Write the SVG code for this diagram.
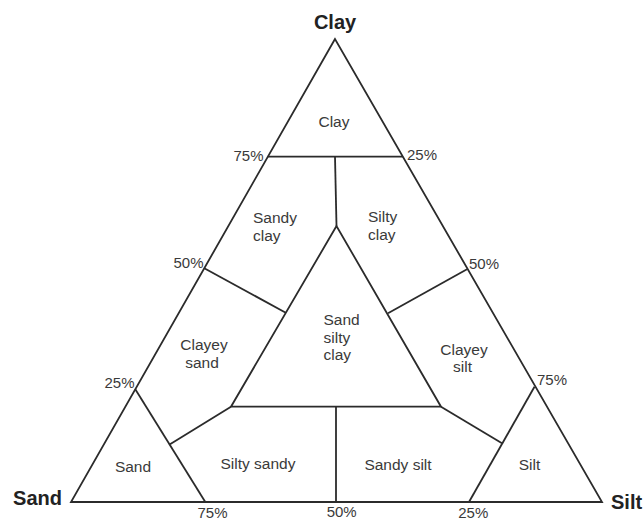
<svg xmlns="http://www.w3.org/2000/svg" width="644" height="520" viewBox="0 0 644 520">
<style>
.ln{fill:none;stroke:#2b2b2b;stroke-width:1.8;stroke-linejoin:miter}
.ax{font-family:"Liberation Sans",Arial,sans-serif;font-size:20px;font-weight:bold;fill:#222}
.pc{font-family:"Liberation Sans",Arial,sans-serif;font-size:15px;fill:#3a3a3a}
.rg{font-family:"Liberation Sans",Arial,sans-serif;font-size:15.5px;fill:#3a3a3a}
</style>
<rect width="644" height="520" fill="#fff"/>
<g id="connectors">
<polygon class="ln" points="335,39 71,502 602,502"/>
<line class="ln" x1="267.8" y1="156.7" x2="402.8" y2="156.7"/>
<line class="ln" x1="335" y1="156.7" x2="336.5" y2="226"/>
<polygon class="ln" points="336.5,226 231,406.7 441,406.7"/>
<line class="ln" x1="204.3" y1="268.3" x2="285.8" y2="312.7"/>
<line class="ln" x1="467" y1="269.3" x2="388" y2="313.3"/>
<line class="ln" x1="135.3" y1="389.3" x2="205.3" y2="502"/>
<line class="ln" x1="231" y1="406.7" x2="170" y2="444.3"/>
<line class="ln" x1="534.5" y1="386.7" x2="469" y2="502"/>
<line class="ln" x1="441" y1="406.7" x2="502" y2="443.3"/>
<line class="ln" x1="336" y1="406.7" x2="336" y2="502"/>
</g>
<g id="axis-labels">
<text class="ax" x="335" y="29" text-anchor="middle">Clay</text>
<text class="ax" x="62" y="505" text-anchor="end">Sand</text>
<text class="ax" x="611" y="509">Silt</text>
</g>
<g id="percent-labels">
<text class="pc" x="263.5" y="161" text-anchor="end">75%</text>
<text class="pc" x="407" y="160">25%</text>
<text class="pc" x="203.5" y="267.5" text-anchor="end">50%</text>
<text class="pc" x="469" y="268.5">50%</text>
<text class="pc" x="134.5" y="387.5" text-anchor="end">25%</text>
<text class="pc" x="537" y="385">75%</text>
<text class="pc" x="212.5" y="517.5" text-anchor="middle">75%</text>
<text class="pc" x="341.7" y="517" text-anchor="middle">50%</text>
<text class="pc" x="473.3" y="518" text-anchor="middle">25%</text>
</g>
<g id="region-clay"><text class="rg" x="334" y="127" text-anchor="middle">Clay</text></g>
<g id="region-sandy-clay"><text class="rg" x="253" y="223">Sandy</text><text class="rg" x="253" y="241">clay</text></g>
<g id="region-silty-clay"><text class="rg" x="368" y="221.5">Silty</text><text class="rg" x="368" y="239.5">clay</text></g>
<g id="region-sand-silty-clay"><text class="rg" x="323.5" y="325">Sand</text><text class="rg" x="323.5" y="342.5">silty</text><text class="rg" x="323.5" y="360">clay</text></g>
<g id="region-clayey-sand"><text class="rg" x="204" y="350" text-anchor="middle">Clayey</text><text class="rg" x="202" y="367.5" text-anchor="middle">sand</text></g>
<g id="region-clayey-silt"><text class="rg" x="464" y="355" text-anchor="middle">Clayey</text><text class="rg" x="462.5" y="372" text-anchor="middle">silt</text></g>
<g id="region-sand"><text class="rg" x="133" y="471.5" text-anchor="middle">Sand</text></g>
<g id="region-silty-sandy"><text class="rg" x="258" y="468.5" text-anchor="middle">Silty sandy</text></g>
<g id="region-sandy-silt"><text class="rg" x="398" y="469.5" text-anchor="middle">Sandy silt</text></g>
<g id="region-silt"><text class="rg" x="529.5" y="469.5" text-anchor="middle">Silt</text></g>
</svg>
